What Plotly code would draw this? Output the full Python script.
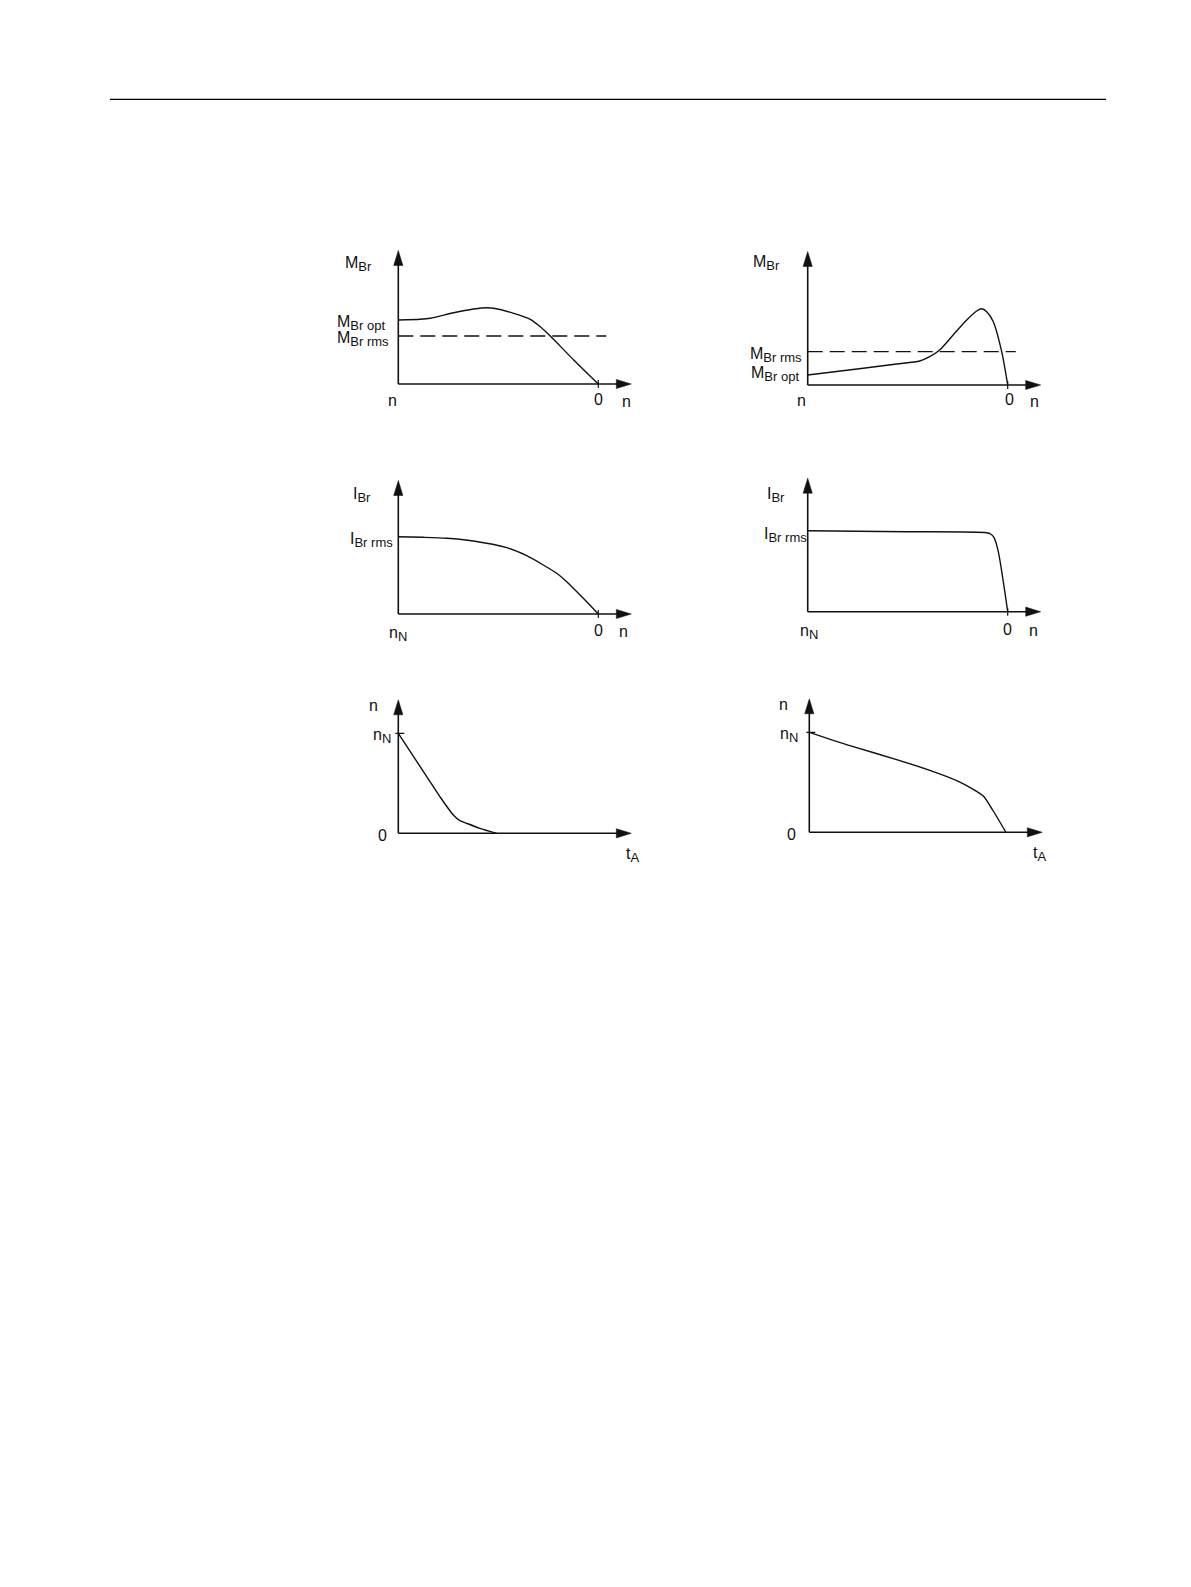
import plotly.graph_objects as go

W, H = 1191, 1587
FONT = "Liberation Sans, Arial, sans-serif"
INK = "#111111"

# speed axis runs from n (0.0) down to standstill (1.0); values in relative units

# top left: braking torque, curve with optimum above rms
mbr_a_n = [0.0, 0.11, 0.16, 0.277, 0.377, 0.443, 0.477, 0.577, 0.66, 0.71, 0.76, 0.877, 1.0]
mbr_a_m = [0.64, 0.647, 0.657, 0.713, 0.75, 0.763, 0.757, 0.707, 0.647, 0.573, 0.48, 0.24, 0.0]
mbr_a_opt = 0.64
mbr_a_rms = 0.48

# top right: braking torque with late peak
mbr_b_n = [0.0, 0.278, 0.445, 0.56, 0.61, 0.66, 0.727, 0.795, 0.845, 0.87, 0.895, 0.928, 0.97, 1.0]
mbr_b_m = [0.10, 0.167, 0.21, 0.24, 0.283, 0.35, 0.5, 0.65, 0.74, 0.763, 0.733, 0.633, 0.333, 0.0]
mbr_b_opt = 0.10
mbr_b_rms = 0.333

# middle left: braking current
ibr_a_n = [0.0, 0.125, 0.242, 0.375, 0.542, 0.642, 0.725, 0.792, 0.842, 0.925, 1.0]
ibr_a_i = [0.773, 0.767, 0.757, 0.73, 0.663, 0.583, 0.49, 0.407, 0.323, 0.157, 0.0]
ibr_a_rms = 0.773

# middle right: braking current, flat then sharp drop
ibr_b_n = [0.0, 0.495, 0.895, 0.915, 0.932, 0.953, 0.978, 1.0]
ibr_b_i = [0.81, 0.80, 0.79, 0.777, 0.74, 0.60, 0.30, 0.0]
ibr_b_rms = 0.80

# bottom: speed over braking time
spd_a_t = [0.0, 0.142, 0.208, 0.275, 0.308, 0.342, 0.408, 0.492]
spd_a_n = [1.0, 0.567, 0.367, 0.183, 0.127, 0.10, 0.05, 0.0]
spd_b_t = [0.0, 0.203, 0.453, 0.62, 0.737, 0.82, 0.87, 0.92, 0.983]
spd_b_n = [1.0, 0.867, 0.717, 0.607, 0.517, 0.43, 0.363, 0.213, 0.0]
n_nom = 1.0

UX, UY = 200.0, 100.0  # px per data unit
X_TIP, Y_TOP = 1.165, 1.335

# panel origins in page pixels
origins = [(398.3, 384.0), (807.7, 385.0), (398.3, 614.0),
           (807.7, 611.7), (398.3, 833.3), (809.3, 832.3)]

fig = go.Figure()


def ax_ids(k):
    return ("x" if k == 1 else f"x{k}"), ("y" if k == 1 else f"y{k}")


def sub(main, low):
    return f'{main}<sub><span style="font-size:13px">{low}</span></sub>'


def add_frame(k, zero_tick=False, nom_tick=False):
    xr, yr = ax_ids(k)
    line = dict(color=INK, width=1.6)
    L, hw = 15.0, 4.6
    fig.add_trace(go.Scatter(x=[0, X_TIP - L / UX * 0.6], y=[0, 0], mode="lines",
                             line=line, xaxis=xr, yaxis=yr, hoverinfo="skip"))
    fig.add_trace(go.Scatter(x=[0, 0], y=[0, Y_TOP - L / UY * 0.6], mode="lines",
                             line=line, xaxis=xr, yaxis=yr, hoverinfo="skip"))
    # arrowheads
    fig.add_trace(go.Scatter(
        x=[X_TIP, X_TIP - L / UX, X_TIP - L / UX, X_TIP],
        y=[0, hw / UY, -hw / UY, 0], mode="lines", fill="toself",
        fillcolor=INK, line=dict(color=INK, width=0.5), xaxis=xr, yaxis=yr, hoverinfo="skip"))
    fig.add_trace(go.Scatter(
        x=[0, hw / UX, -hw / UX, 0],
        y=[Y_TOP, Y_TOP - L / UY, Y_TOP - L / UY, Y_TOP], mode="lines", fill="toself",
        fillcolor=INK, line=dict(color=INK, width=0.5), xaxis=xr, yaxis=yr, hoverinfo="skip"))
    if zero_tick:
        fig.add_trace(go.Scatter(x=[1.0, 1.0], y=[-0.04, 0.04], mode="lines",
                                 line=dict(color=INK, width=1.2), xaxis=xr, yaxis=yr, hoverinfo="skip"))
    if nom_tick:
        fig.add_trace(go.Scatter(x=[-0.015, 0.03], y=[n_nom, n_nom], mode="lines",
                                 line=dict(color=INK, width=1.2), xaxis=xr, yaxis=yr, hoverinfo="skip"))


def add_curve(k, x, y):
    xr, yr = ax_ids(k)
    fig.add_trace(go.Scatter(x=x, y=y, mode="lines", line=dict(color=INK, width=1.4, shape="spline", smoothing=0.7),
                             xaxis=xr, yaxis=yr, hoverinfo="skip"))


def add_dashed(k, level):
    xr, yr = ax_ids(k)
    fig.add_trace(go.Scatter(x=[0, 1.04], y=[level, level], mode="lines",
                             line=dict(color=INK, width=1.3, dash="15px,7px"),
                             xaxis=xr, yaxis=yr, hoverinfo="skip"))


annotations = []


def label(k, text, x, y, xanchor="center", xshift=0, yshift=0):
    xr, yr = ax_ids(k)
    annotations.append(dict(text=text, x=x, y=y, xref=xr, yref=yr, xanchor=xanchor, yanchor="middle",
                            xshift=xshift, yshift=yshift, showarrow=False,
                            font=dict(family=FONT, size=16, color=INK)))


# panel 1
add_frame(1, zero_tick=True)
add_dashed(1, mbr_a_rms)
add_curve(1, mbr_a_n, mbr_a_m)
label(1, sub("M", "Br"), 0, 1.23, "right", -24, -3)
label(1, sub("M", "Br opt"), 0, mbr_a_opt, "right", -11, -3)
label(1, sub("M", "Br rms"), 0, mbr_a_rms, "right", -7, -3)
label(1, "n", -0.03, -0.17)
label(1, "0", 1.0, -0.16)
label(1, "n", 1.14, -0.18)

# panel 2
add_frame(2, zero_tick=True)
add_dashed(2, mbr_b_rms)
add_curve(2, mbr_b_n, mbr_b_m)
label(2, sub("M", "Br"), 0, 1.25, "right", -26, -3)
label(2, sub("M", "Br rms"), 0, mbr_b_rms, "right", -4, -3)
label(2, sub("M", "Br opt"), 0, mbr_b_opt, "right", -7, 1)
label(2, "n", -0.03, -0.16)
label(2, "0", 1.01, -0.15)
label(2, "n", 1.135, -0.17)

# panel 3
add_frame(3, zero_tick=True)
add_curve(3, ibr_a_n, ibr_a_i)
label(3, sub("I", "Br"), 0, 1.22, "right", -25, -3)
label(3, sub("I", "Br rms"), 0, ibr_a_rms, "right", -3, -3)
label(3, sub("n", "N"), 0.0, -0.17, yshift=-3)
label(3, "0", 1.0, -0.16)
label(3, "n", 1.125, -0.17)

# panel 4
add_frame(4, zero_tick=True)
add_curve(4, ibr_b_n, ibr_b_i)
label(4, sub("I", "Br"), 0, 1.20, "right", -21, -3)
label(4, sub("I", "Br rms"), 0, ibr_b_rms, "right", 1, -3)
label(4, sub("n", "N"), 0.007, -0.17, yshift=-3)
label(4, "0", 1.0, -0.18)
label(4, "n", 1.13, -0.19)

# panel 5
add_frame(5, nom_tick=True)
add_curve(5, spd_a_t, spd_a_n)
label(5, "n", -0.125, 1.28)
label(5, sub("n", "N"), 0, n_nom, "right", -5, -3)
label(5, "0", -0.08, -0.02)
label(5, sub("t", "A"), 1.17, -0.19, yshift=-3)

# panel 6
add_frame(6, nom_tick=True)
add_curve(6, spd_b_t, spd_b_n)
label(6, "n", -0.13, 1.28)
label(6, sub("n", "N"), 0, n_nom, "right", -9, -3)
label(6, "0", -0.088, -0.02)
label(6, sub("t", "A"), 1.153, -0.19, yshift=-3)

layout_axes = {}
for k, (ox, oy) in enumerate(origins, start=1):
    xname = "xaxis" if k == 1 else f"xaxis{k}"
    yname = "yaxis" if k == 1 else f"yaxis{k}"
    yanchor = "y" if k == 1 else f"y{k}"
    xanchor = "x" if k == 1 else f"x{k}"
    layout_axes[xname] = dict(domain=[(ox - 60) / W, (ox + 260) / W], range=[-0.3, 1.3],
                              visible=False, fixedrange=True, anchor=yanchor)
    layout_axes[yname] = dict(domain=[1 - (oy + 30) / H, 1 - (oy - 150) / H], range=[-0.3, 1.5],
                              visible=False, fixedrange=True, anchor=xanchor)

fig.update_layout(
    width=W, height=H,
    margin=dict(l=0, r=0, t=0, b=0),
    paper_bgcolor="white", plot_bgcolor="rgba(0,0,0,0)",
    showlegend=False,
    annotations=annotations,
    shapes=[dict(type="line", xref="paper", yref="paper",
                 x0=110 / W, x1=1106 / W, y0=1 - 99.3 / H, y1=1 - 99.3 / H,
                 line=dict(color="black", width=1.3))],
    **layout_axes,
)

fig.write_html("out.html", config={"displayModeBar": False},
               post_script="document.body.style.margin='0';")
